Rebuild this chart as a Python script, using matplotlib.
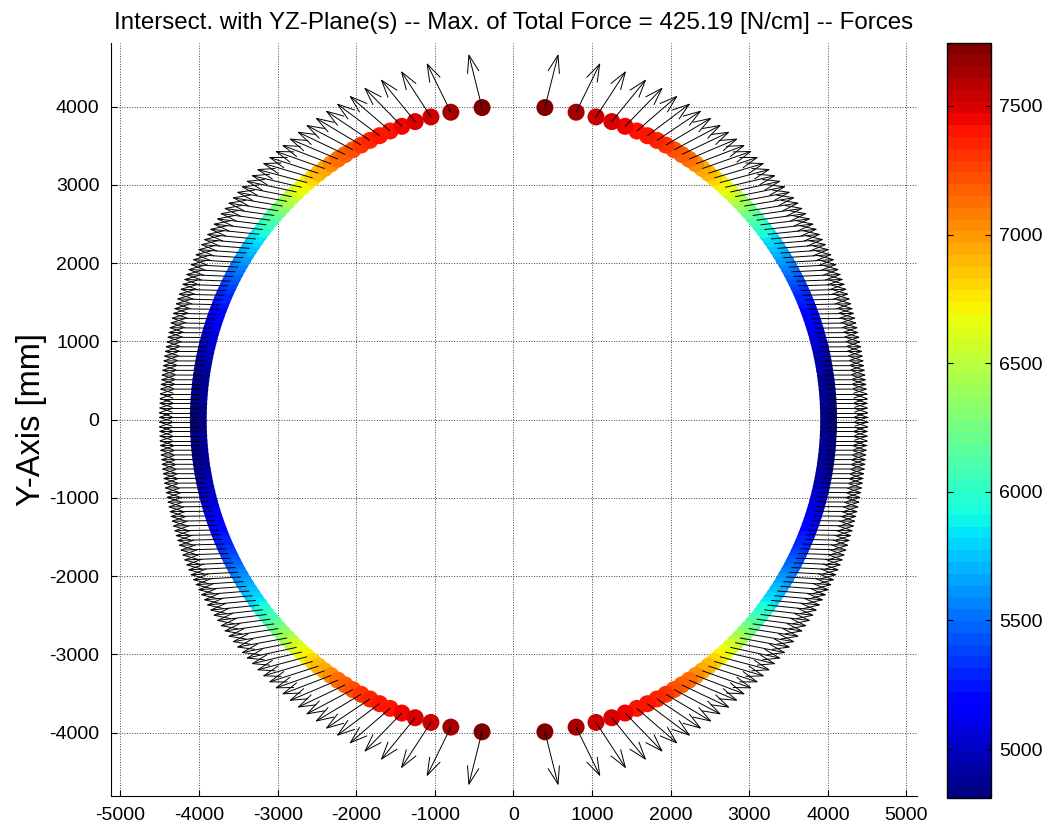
import numpy as np
import matplotlib
matplotlib.use("Agg")
import matplotlib.pyplot as plt
from matplotlib.collections import LineCollection

plt.rcParams['font.family'] = ['Liberation Sans', 'DejaVu Sans']
plt.rcParams['axes.unicode_minus'] = False

# section radius [mm]
radius = 4010.0

# node heights of one quarter of the section [mm]
y_nodes = [30, 90, 150, 210, 270, 330, 390, 450, 510, 570,
           630, 690, 750, 810, 870, 930, 990, 1050, 1110, 1170,
           1230, 1290, 1350, 1410, 1470, 1530, 1590, 1650, 1710, 1770,
           1830, 1890, 1950, 2010, 2070, 2130, 2190, 2250, 2310, 2370,
           2430, 2490, 2550, 2610, 2670, 2730, 2790, 2850, 2910, 2970,
           3030, 3090, 3150, 3210, 3270, 3330, 3390, 3450, 3510, 3570,
           3630, 3690, 3750, 3810, 3870, 3930, 3990]

# colour value at each node
node_vals = [4850, 4850, 4855, 4855, 4860, 4865, 4870, 4875, 4880, 4890,
             4900, 4915, 4930, 4945, 4960, 4980, 5000, 5020, 5045, 5070,
             5100, 5125, 5150, 5180, 5210, 5240, 5275, 5310, 5345, 5380,
             5420, 5460, 5500, 5545, 5590, 5640, 5690, 5740, 5795, 5855,
             5920, 5990, 6060, 6135, 6215, 6300, 6385, 6470, 6560, 6645,
             6725, 6800, 6880, 6960, 7040, 7110, 7180, 7240, 7290, 7340,
             7380, 7420, 7460, 7490, 7540, 7620, 7740]

# force direction above horizontal [deg]
force_ang = [0.0, 0.0, 0.0, 0.0, 0.0, 0.0, 0.1, 0.1, 0.1, 0.1,
             0.1, 0.1, 0.2, 0.2, 0.3, 0.3, 0.4, 0.4, 0.5, 0.6,
             0.7, 0.8, 0.9, 1.0, 1.2, 1.4, 1.5, 1.7, 2.0, 2.2,
             2.5, 2.8, 3.1, 3.4, 3.7, 4.1, 4.5, 4.9, 5.4, 5.9,
             6.4, 7.0, 7.6, 8.2, 8.9, 9.7, 10.5, 11.4, 12.3, 13.3,
             15, 16.5, 18, 19.5, 21, 23, 25.5, 28, 31, 34,
             37, 41, 46, 51, 57, 64, 76]

# arrow length (scaled force) [mm]
force_len = [495, 495, 495, 496, 496, 497, 498, 499, 500, 502,
             504, 506, 509, 512, 515, 518, 522, 526, 530, 535,
             540, 545, 550, 555, 560, 565, 570, 575, 580, 585,
             590, 594, 598, 602, 605, 608, 611, 614, 617, 620,
             623, 626, 629, 632, 635, 637, 639, 641, 643, 645,
             647, 649, 651, 653, 655, 657, 659, 661, 663, 665,
             668, 671, 674, 680, 685, 685, 690]

x_ticks = [-5000, -4000, -3000, -2000, -1000, 0, 1000, 2000, 3000, 4000, 5000]
y_ticks = [-4000, -3000, -2000, -1000, 0, 1000, 2000, 3000, 4000]
c_ticks = [5000, 5500, 6000, 6500, 7000, 7500]
c_lim = (4810, 7746)

yq = np.array(y_nodes, dtype=float)
zq = np.sqrt(radius**2 - yq**2)
ang = np.radians(force_ang)
lq = np.array(force_len, dtype=float)

# mirror the quarter to the full section
zs, ys, us, vs, cs = [], [], [], [], []
for sz in (-1, 1):
    for sy in (1, -1):
        zs.append(sz * zq)
        ys.append(sy * yq)
        us.append(sz * lq * np.cos(ang))
        vs.append(sy * lq * np.sin(ang))
        cs.append(np.array(node_vals, dtype=float))
z = np.concatenate(zs)
y = np.concatenate(ys)
u = np.concatenate(us)
v = np.concatenate(vs)
c = np.concatenate(cs)

# quiver-style arrows with open heads
alpha, beta = 0.33, 0.33
segs = []
for x0, y0, du, dv in zip(z, y, u, v):
    tx, ty = x0 + du, y0 + dv
    segs.append([(x0, y0), (tx, ty)])
    b1 = (tx - alpha * (du + beta * dv), ty - alpha * (dv - beta * du))
    b2 = (tx - alpha * (du - beta * dv), ty - alpha * (dv + beta * du))
    segs.append([b1, (tx, ty), b2])

fig = plt.figure(figsize=(10.47, 8.30), dpi=100)
ax = fig.add_axes([0.1057, 0.0410, 0.7698, 0.9072])
cax = fig.add_axes([0.9048, 0.0386, 0.0417, 0.9100])

cmap = matplotlib.colormaps['jet'].resampled(64)
sc = ax.scatter(z, y, c=c, cmap=cmap, vmin=c_lim[0], vmax=c_lim[1],
                s=150, linewidths=0, zorder=2)
ax.add_collection(LineCollection(segs, colors='black', linewidths=0.7, zorder=3))

ax.set_xlim(-5125, 5130)
ax.set_ylim(-4810, 4815)
ax.set_xticks(x_ticks)
ax.set_yticks(y_ticks)
ax.grid(True, linestyle=':', color='0.25', linewidth=0.7)
ax.set_axisbelow(True)
for side in ('top', 'right'):
    ax.spines[side].set_visible(False)
ax.tick_params(direction='in', length=4, labelsize=14, pad=8)
ax.set_ylabel('Y-Axis [mm]', fontsize=23.5, labelpad=2)
ax.set_title('Intersect. with YZ-Plane(s) -- Max. of Total Force = 425.19 [N/cm] -- Forces',
             fontsize=17.4, pad=10)

cb = fig.colorbar(sc, cax=cax)
cb.set_ticks(c_ticks)
cb.outline.set_linewidth(1.0)
cax.tick_params(direction='in', left=True, right=True, length=4, labelsize=14, pad=6)

fig.savefig('out.png', dpi=100)
